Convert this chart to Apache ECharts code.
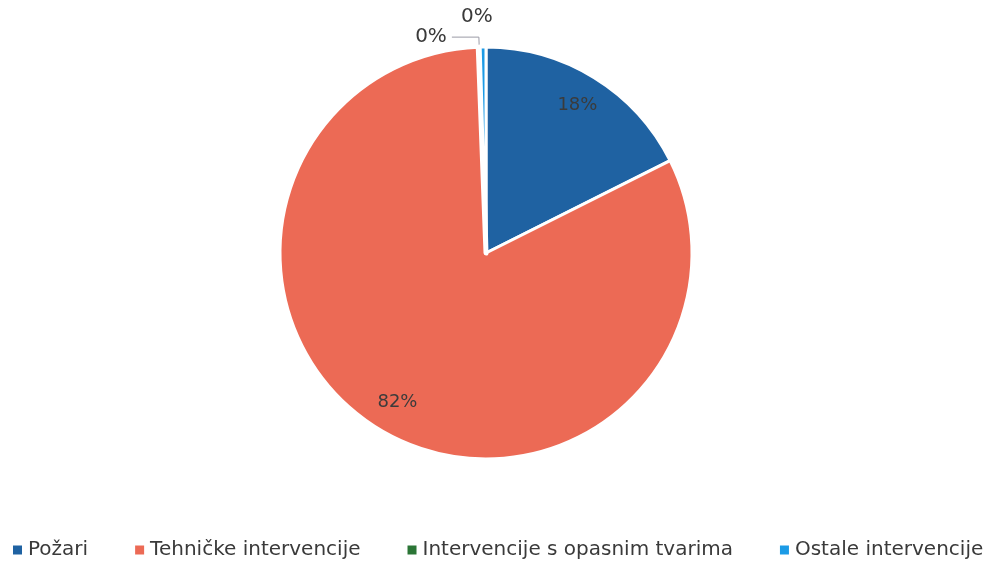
<!DOCTYPE html>
<html>
<head>
<meta charset="utf-8">
<script src="https://cdn.jsdelivr.net/npm/echarts@6/dist/echarts.min.js"></script>
<style>
html,body{margin:0;padding:0;background:#fff;}
#chart{width:988px;height:562px;}
</style>
</head>
<body>
<div id="chart"></div>
<script>
// Data (percent shares)
const categories = ['Požari', 'Tehničke intervencije', 'Intervencije s opasnim tvarima', 'Ostale intervencije'];
const values = [17.6, 81.8, 0.15, 0.45];
const colors = ['#1f62a2', '#ec6a55', '#2b7536', '#1c9be6'];

const chart = echarts.init(document.getElementById('chart'));
const FONT = 'DejaVu Sans';
const TXT = '#3a3a3a';
const CENTER = [486, 253];

const mainData = categories.map((name, i) => {
  const item = { name: name, value: values[i], itemStyle: { color: colors[i] } };
  if (i === 2) {
    item.itemStyle.borderWidth = 5;
    item.label = { show: true, padding: [0, 0, 8, 0] };
    item.labelLine = { show: true, length: 10, length2: 27 };
  } else if (i === 3) {
    item.label = { show: true, distanceToLabelLine: -10 };
    item.labelLine = { show: false, length: 30, length2: 0 };
  }
  return item;
});

const labelData = categories.map((name, i) => ({
  name: name, value: values[i],
  label: { show: i < 2 }
}));

chart.setOption({
  animation: false,
  backgroundColor: '#fff',
  legend: {
    left: 11,
    top: 538,
    padding: 0,
    width: 977,
    icon: 'path://M0,0H9V9H0Z',
    itemWidth: 11,
    itemHeight: 11,
    itemGap: 45,
    textStyle: { fontFamily: FONT, fontSize: 20, color: TXT, lineHeight: 24 },
    data: categories
  },
  series: [
    {
      type: 'pie',
      center: CENTER,
      radius: [0, 206],
      startAngle: 90,
      clockwise: true,
      avoidLabelOverlap: false,
      percentPrecision: 0,
      silent: true,
      itemStyle: { borderColor: '#ffffff', borderWidth: 3 },
      label: {
        show: false,
        position: 'outside',
        formatter: '{d}%',
        fontFamily: FONT,
        fontSize: 20,
        color: TXT
      },
      labelLine: { lineStyle: { color: '#9a9aa6', width: 1 } },
      emphasis: { disabled: true },
      data: mainData
    },
    {
      type: 'pie',
      center: CENTER,
      radius: [0, 342],
      startAngle: 90,
      clockwise: true,
      avoidLabelOverlap: false,
      percentPrecision: 0,
      silent: true,
      itemStyle: { color: 'rgba(0,0,0,0)', borderWidth: 0 },
      label: {
        position: 'inside',
        formatter: '{d}%',
        fontFamily: FONT,
        fontSize: 18,
        color: '#3b3b3b'
      },
      labelLine: { show: false },
      emphasis: { disabled: true },
      tooltip: { show: false },
      data: labelData
    }
  ]
});
</script>
</body>
</html>
